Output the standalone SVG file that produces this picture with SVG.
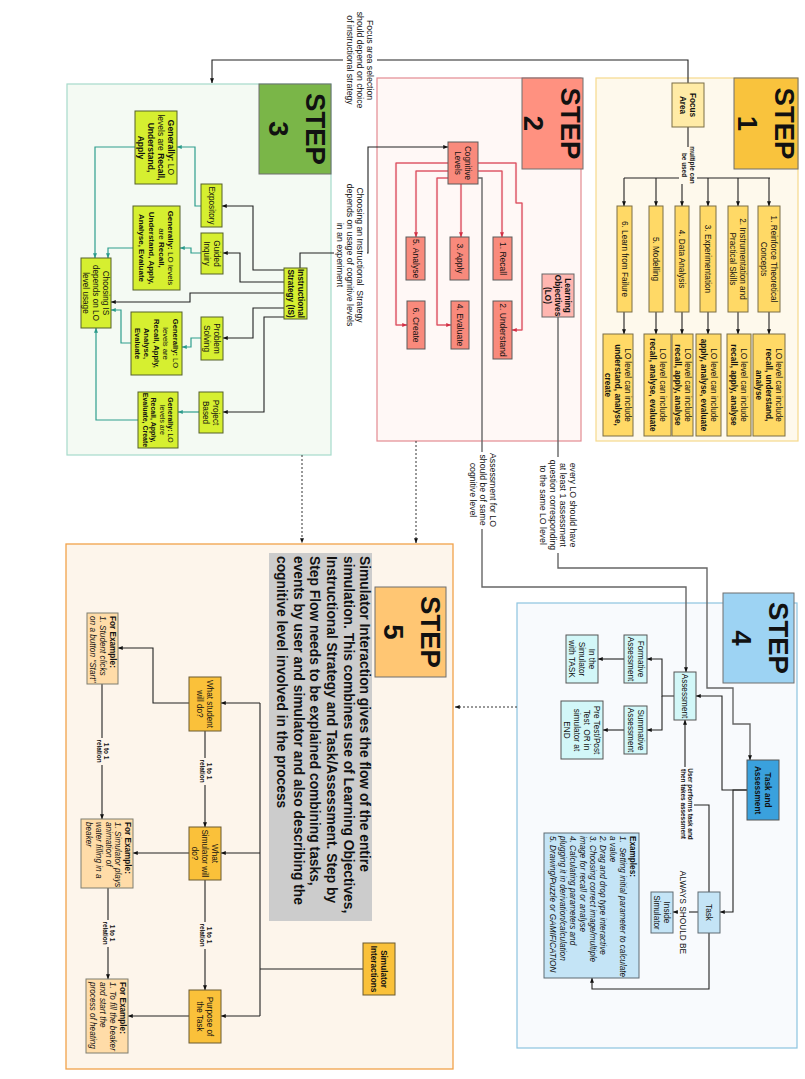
<svg xmlns="http://www.w3.org/2000/svg" width="805" height="1079" viewBox="0 0 805 1079">
<defs>
  <marker id="ah" viewBox="0 0 10 10" refX="9.5" refY="5" markerWidth="5" markerHeight="5" markerUnits="userSpaceOnUse" orient="auto">
    <path d="M0,1 L10,5 L0,9 Z" fill="#111"/>
  </marker>
  <marker id="ah-teal" viewBox="0 0 10 10" refX="9.5" refY="5" markerWidth="5" markerHeight="5" markerUnits="userSpaceOnUse" orient="auto">
    <path d="M0,1 L10,5 L0,9 Z" fill="#2A9A8A"/>
  </marker>
  <marker id="ah-red" viewBox="0 0 10 10" refX="9.5" refY="5" markerWidth="5" markerHeight="5" markerUnits="userSpaceOnUse" orient="auto">
    <path d="M0,1 L10,5 L0,9 Z" fill="#D22F44"/>
  </marker>
</defs>
<style>
  text { font-family: "Liberation Sans", Arial, sans-serif; fill: #111; }
  .n { font-size: 8.2px; text-anchor: middle; }
  .n85 { font-size: 8.5px; text-anchor: middle; }
  .b { font-weight: bold; }
  .i { font-style: italic; }
  .lbl { font-size: 8.7px; text-anchor: middle; }
  .sm { font-size: 6.4px; font-weight: bold; text-anchor: middle; }
  .step { font-size: 27.5px; font-weight: bold; text-anchor: middle; }
  .ex { font-size: 8.2px; text-anchor: start; }
  .big { font-size: 13.8px; font-weight: bold; text-anchor: start; }
  .ln { fill: none; stroke: #222; stroke-width: 1.1; }
  .gl { fill: none; stroke: #666; stroke-width: 1.4; }
  .tl { fill: none; stroke: #2E9E8E; stroke-width: 1.2; }
  .rh { fill: none; stroke: #F6BCC2; stroke-width: 2.2; }
  .rl { fill: none; stroke: #D4384A; stroke-width: 0.9; }
  .dl { fill: none; stroke: #333; stroke-width: 1; stroke-dasharray: 2 2; }
  .hd { stroke: #6F6F6F; stroke-width: 1; }
  .yb { fill: #FFD966; stroke: #7B6F47; stroke-width: 1; }
  .pk { fill: #F98A7C; stroke: #5A5A5A; stroke-width: 1; }
  .lm { fill: #D6EF30; stroke: #55602A; stroke-width: 1; }
  .cy { fill: #D2F7F8; stroke: #555; stroke-width: 1; }
  .lb { fill: #C4E4F6; stroke: #5F6B73; stroke-width: 1; }
  .or { fill: #FAC13A; stroke: #6B5A30; stroke-width: 1; }
  .pe { fill: #FFDCA8; stroke: #7F7F70; stroke-width: 1; }
</style>
<rect width="805" height="1079" fill="#ffffff"/>

<!-- ===== area frames ===== -->
<g id="step1">
  <rect x="596" y="78" width="202" height="363" fill="#FEF9EC" stroke="#F6D98D" stroke-width="1.2"/>
  <rect x="734" y="78" width="64" height="91" fill="#F9C33D" class="hd"/>
  <text class="step" transform="translate(766,123.5) rotate(90)"><tspan x="0" y="-8.7">STEP</tspan><tspan x="0" y="28.3">1</tspan></text>
</g>
<g id="step2">
  <rect x="377" y="78" width="204" height="363" fill="#FFF8F6" stroke="#E38A92" stroke-width="1.2"/>
  <rect x="522" y="78" width="61" height="91" fill="#FF9180" class="hd"/>
  <text class="step" transform="translate(552.5,123.5) rotate(90)"><tspan x="0" y="-8.7">STEP</tspan><tspan x="0" y="28.3">2</tspan></text>
</g>
<g id="step3">
  <rect x="67" y="84" width="264" height="371" fill="#F4FAF3" stroke="#A6DACB" stroke-width="1.2"/>
  <rect x="259" y="84" width="72" height="90" fill="#7AB648" class="hd"/>
  <text class="step" transform="translate(297,129) rotate(90)"><tspan x="0" y="-8.7">STEP</tspan><tspan x="0" y="28.3">3</tspan></text>
</g>
<g id="step4">
  <rect x="517" y="603" width="280" height="445" fill="#F8FAFD" stroke="#8DC4E0" stroke-width="1.2"/>
  <rect x="723" y="593" width="71" height="90" fill="#9DD3F3" class="hd"/>
  <text class="step" transform="translate(760,638) rotate(90)"><tspan x="0" y="-8.7">STEP</tspan><tspan x="0" y="28.3">4</tspan></text>
</g>
<g id="step5">
  <rect x="66" y="544" width="387" height="525" fill="#FDF5EB" stroke="#F1A24A" stroke-width="1.3"/>
  <rect x="375" y="587" width="71" height="90" fill="#FFC673" class="hd"/>
  <text class="step" transform="translate(412,632) rotate(90)"><tspan x="0" y="-8.7">STEP</tspan><tspan x="0" y="28.3">5</tspan></text>
</g>

<!-- ===== connectors ===== -->
<g id="connectors">
  <!-- step 1 -->
  <path class="ln" d="M688,83 V60 H212 V83" marker-end="url(#ah)"/>
  <path class="ln" d="M688,127 V178"/>
  <path class="ln" d="M624,178 H770"/>
  <path class="ln" d="M769,178 V206" marker-end="url(#ah)"/>
  <path class="ln" d="M738,178 V206" marker-end="url(#ah)"/>
  <path class="ln" d="M708,178 V206" marker-end="url(#ah)"/>
  <path class="ln" d="M682,178 V206" marker-end="url(#ah)"/>
  <path class="ln" d="M656,178 V206" marker-end="url(#ah)"/>
  <path class="ln" d="M624,178 V206" marker-end="url(#ah)"/>
  <path class="ln" d="M769,312 V334" marker-end="url(#ah)"/>
  <path class="ln" d="M738,312 V334" marker-end="url(#ah)"/>
  <path class="ln" d="M708,312 V334" marker-end="url(#ah)"/>
  <path class="ln" d="M682,312 V334" marker-end="url(#ah)"/>
  <path class="ln" d="M656,312 V334" marker-end="url(#ah)"/>
  <path class="ln" d="M624,312 V334" marker-end="url(#ah)"/>

  <!-- step 2: cognitive levels fan-out -->
  <g id="cognitive-halo">
    <path class="rh" d="M478,171 H502 V237"/>
    <path class="rh" d="M478,163 H516 V203 H522 V330 H512"/>
    <path class="rh" d="M461,184 V237"/>
    <path class="rh" d="M448,178 H437 V325 H451"/>
    <path class="rh" d="M448,171 H416 V237"/>
    <path class="rh" d="M448,163 H396 V325 H407"/>
  </g>
  <path class="rl" d="M478,171 H502 V237" marker-end="url(#ah-red)"/>
  <path class="rl" d="M478,163 H516 V203 H522 V330 H512" marker-end="url(#ah-red)"/>
  <path class="rl" d="M461,184 V237" marker-end="url(#ah-red)"/>
  <path class="rl" d="M448,178 H437 V325 H451" marker-end="url(#ah-red)"/>
  <path class="rl" d="M448,171 H416 V237" marker-end="url(#ah-red)"/>
  <path class="rl" d="M448,163 H396 V325 H407" marker-end="url(#ah-red)"/>

  <!-- step 2 to step 4 -->
  <path class="gl" d="M478,178 H482 V587 H686 V672" marker-end="url(#ah)"/>
  <path class="gl" d="M558,317 V568 H707 V688 H733 V724 H750 V760" marker-end="url(#ah)"/>

  <!-- step 3 -->
  <path class="ln" d="M300,268 V253 H368 V147 H448" marker-end="url(#ah)"/>
  <path class="ln" d="M284,270 H253 V206 H222" marker-end="url(#ah)"/>
  <path class="ln" d="M284,282 H240 V253 H223" marker-end="url(#ah)"/>
  <path class="ln" d="M284,293 H190 V302 H111" marker-end="url(#ah)"/>
  <path class="ln" d="M284,308 H253 V338 H223" marker-end="url(#ah)"/>
  <path class="ln" d="M284,317 H264 V412 H223" marker-end="url(#ah)"/>
  <path class="tl" d="M201,206 H195 V147 H177" marker-end="url(#ah-teal)"/>
  <path class="tl" d="M135,147 H95 V258" marker-end="url(#ah-teal)"/>
  <path class="tl" d="M201,253 H191 V248 H180" marker-end="url(#ah-teal)"/>
  <path class="tl" d="M133,248 H108 V258" marker-end="url(#ah-teal)"/>
  <path class="tl" d="M201,338 H191 V347 H182" marker-end="url(#ah-teal)"/>
  <path class="tl" d="M131,343 H121 V310 H111" marker-end="url(#ah-teal)"/>
  <path class="tl" d="M199,412 H178" marker-end="url(#ah-teal)"/>
  <path class="tl" d="M138,420 H96 V328" marker-end="url(#ah-teal)"/>

  <!-- step 4 -->
  <path class="ln" d="M674,696 H662 V659 H647" marker-end="url(#ah)"/>
  <path class="ln" d="M662,696 V730 H647" marker-end="url(#ah)"/>
  <path class="ln" d="M624,659 H598" marker-end="url(#ah)"/>
  <path class="ln" d="M624,730 H603" marker-end="url(#ah)"/>
  <path class="ln" d="M747,790 H722 V696 H696" marker-end="url(#ah)"/>
  <path class="ln" d="M747,790 H733 V912 H720" marker-end="url(#ah)"/>
  <path class="ln" d="M709,892 V805 H685 V720" marker-end="url(#ah)"/>
  <path class="ln" d="M698,912 H673" marker-end="url(#ah)"/>
  <path class="ln" d="M709,933 V989 H592 V978" marker-end="url(#ah)"/>

  <!-- dotted hand-overs into step 5 -->
  <path class="dl" d="M517,707 H455" marker-end="url(#ah)"/>
  <path class="dl" d="M302,455 V543" marker-end="url(#ah)"/>
  <path class="dl" d="M416,441 V543" marker-end="url(#ah)"/>

  <!-- step 5 -->
  <path class="ln" d="M363,969 H260"/>
  <path class="ln" d="M260,703 V1016"/>
  <path class="ln" d="M260,703 H221" marker-end="url(#ah)"/>
  <path class="ln" d="M260,853 H221" marker-end="url(#ah)"/>
  <path class="ln" d="M260,1016 H221" marker-end="url(#ah)"/>
  <path class="ln" d="M189,703 H153 V648 H118" marker-end="url(#ah)"/>
  <path class="ln" d="M205,731 V827" marker-end="url(#ah)"/>
  <path class="ln" d="M189,853 H133" marker-end="url(#ah)"/>
  <path class="ln" d="M205,880 V990" marker-end="url(#ah)"/>
  <path class="ln" d="M189,1016 H128" marker-end="url(#ah)"/>
  <path class="ln" d="M102,684 V819" marker-end="url(#ah)"/>
  <path class="ln" d="M108,888 V979" marker-end="url(#ah)"/>

  <!-- connector labels -->
  <rect x="343" y="55" width="34" height="10" fill="#ffffff"/>
  <text class="lbl" transform="translate(360,60) rotate(90)"><tspan x="0" y="-7">Focus area selection</tspan><tspan x="0" y="3">should depend on choice</tspan><tspan x="0" y="13">of instructional strategy</tspan></text>

  <rect x="679" y="147" width="18" height="37" fill="#FEF9EC"/>
  <text class="sm" transform="translate(688,165) rotate(90)"><tspan x="0" y="-1.5">multiple can</tspan><tspan x="0" y="6">be used</tspan></text>

  <rect x="334" y="248" width="33" height="10" fill="#ffffff"/>
  <text class="lbl" transform="translate(350,255) rotate(90)"><tspan x="0" y="-7">Choosing an Instructional&#160; Strategy</tspan><tspan x="0" y="3">depends on usage of cognitive levels</tspan><tspan x="0" y="13">in an experiment</tspan></text>

  <rect x="477" y="452" width="10" height="77" fill="#ffffff"/>
  <text class="lbl" transform="translate(483,490) rotate(90)"><tspan x="0" y="-7">Assessment for LO</tspan><tspan x="0" y="3">should be of same</tspan><tspan x="0" y="13">cognitive level</tspan></text>

  <rect x="553" y="457" width="10" height="96" fill="#ffffff"/>
  <text class="lbl" transform="translate(558,505) rotate(90)"><tspan x="0" y="-12">every LO should have</tspan><tspan x="0" y="-2">at least 1 assessment</tspan><tspan x="0" y="8">question corresponding</tspan><tspan x="0" y="18">to the same LO level</tspan></text>

  <rect x="679" y="767" width="15" height="74" fill="#F8FAFD"/>
  <text class="sm" transform="translate(686.5,804) rotate(90)"><tspan x="0" y="-1.4">User performs task and</tspan><tspan x="0" y="6">then takes assessment</tspan></text>

  <rect x="678" y="869" width="11" height="87" fill="#F8FAFD"/>
  <text class="lbl" transform="translate(683,912.5) rotate(90)" style="font-size:8.3px"><tspan x="0" y="2.9">ALWAYS SHOULD BE</tspan></text>

  <rect x="199" y="758" width="13" height="27" fill="#FDF5EB"/>
  <text class="sm" transform="translate(205.5,771) rotate(90)"><tspan x="0" y="-1.5">1 to 1</tspan><tspan x="0" y="6">relation</tspan></text>
  <rect x="199" y="922" width="13" height="27" fill="#FDF5EB"/>
  <text class="sm" transform="translate(205.5,935) rotate(90)"><tspan x="0" y="-1.5">1 to 1</tspan><tspan x="0" y="6">relation</tspan></text>
  <rect x="96" y="738" width="13" height="27" fill="#FDF5EB"/>
  <text class="sm" transform="translate(102.5,751) rotate(90)"><tspan x="0" y="-1.5">1 to 1</tspan><tspan x="0" y="6">relation</tspan></text>
  <rect x="102" y="920" width="13" height="27" fill="#FDF5EB"/>
  <text class="sm" transform="translate(108.5,933) rotate(90)"><tspan x="0" y="-1.5">1 to 1</tspan><tspan x="0" y="6">relation</tspan></text>
</g>

<!-- ===== step 1 nodes ===== -->
<g id="focus-area">
  <rect x="672" y="83" width="32" height="44" fill="#FFEBA6" stroke="#7B6F47"/>
  <text class="n b" transform="translate(688,105) rotate(90)"><tspan x="0" y="-2">Focus</tspan><tspan x="0" y="7.8">Area</tspan></text>
</g>
<g id="focus-1">
  <rect class="yb" x="758" y="206" width="22" height="106"/>
  <text class="n" transform="translate(769,259) rotate(90)"><tspan x="0" y="-2">1. Reinforce Theoretical</tspan><tspan x="0" y="7.8">Concepts</tspan></text>
</g>
<g id="focus-2">
  <rect class="yb" x="728" y="206" width="20" height="106"/>
  <text class="n" transform="translate(738,259) rotate(90)"><tspan x="0" y="-2">2. Instrumentation and</tspan><tspan x="0" y="7.8">Practical Skills</tspan></text>
</g>
<g id="focus-3">
  <rect class="yb" x="700" y="206" width="16" height="106"/>
  <text class="n" transform="translate(708,259) rotate(90)"><tspan x="0" y="2.9">3. Experimentation</tspan></text>
</g>
<g id="focus-4">
  <rect class="yb" x="675" y="206" width="14" height="106"/>
  <text class="n" transform="translate(682,259) rotate(90)"><tspan x="0" y="2.9">4. Data Analysis</tspan></text>
</g>
<g id="focus-5">
  <rect class="yb" x="649" y="206" width="14" height="106"/>
  <text class="n" transform="translate(656,259) rotate(90)"><tspan x="0" y="2.9">5. Modelling</tspan></text>
</g>
<g id="focus-6">
  <rect class="yb" x="617" y="206" width="15" height="106"/>
  <text class="n" transform="translate(624.5,259) rotate(90)"><tspan x="0" y="2.9">6. Learn from Failure</tspan></text>
</g>
<g id="lo-1">
  <rect class="yb" x="753" y="334" width="32" height="102"/>
  <text class="n" transform="translate(769,385) rotate(90)"><tspan x="0" y="-6.9">LO level can include</tspan><tspan x="0" y="2.9" class="b">recall, understand,</tspan><tspan x="0" y="12.7" class="b">analyse</tspan></text>
</g>
<g id="lo-2">
  <rect class="yb" x="727" y="334" width="24" height="102"/>
  <text class="n" transform="translate(739,385) rotate(90)"><tspan x="0" y="-2">LO level can include</tspan><tspan x="0" y="7.8" class="b">recall, apply, analyse</tspan></text>
</g>
<g id="lo-3">
  <rect class="yb" x="696" y="334" width="25" height="102"/>
  <text class="n" transform="translate(708.5,385) rotate(90)"><tspan x="0" y="-2">LO level can include</tspan><tspan x="0" y="7.8" class="b">apply, analyse, evaluate</tspan></text>
</g>
<g id="lo-4">
  <rect class="yb" x="672" y="334" width="21" height="102"/>
  <text class="n" transform="translate(682.5,385) rotate(90)"><tspan x="0" y="-2">LO level can include</tspan><tspan x="0" y="7.8" class="b">recall, apply, analyse</tspan></text>
</g>
<g id="lo-5">
  <rect class="yb" x="644" y="334" width="27" height="102"/>
  <text class="n" transform="translate(657.5,385) rotate(90)"><tspan x="0" y="-2">LO level can include</tspan><tspan x="0" y="7.8" class="b">recall, analyse, evaluate</tspan></text>
</g>
<g id="lo-6">
  <rect class="yb" x="603" y="334" width="30" height="102"/>
  <text class="n" transform="translate(618,385) rotate(90)"><tspan x="0" y="-6.9">LO level can include</tspan><tspan x="0" y="2.9" class="b">understand, analyse,</tspan><tspan x="0" y="12.7" class="b">create</tspan></text>
</g>

<!-- ===== step 2 nodes ===== -->
<g id="cognitive-levels">
  <rect class="pk" x="448" y="142" width="30" height="42"/>
  <text class="n" transform="translate(463,163) rotate(90)"><tspan x="0" y="-2">Cognitive</tspan><tspan x="0" y="7.8">Levels</tspan></text>
</g>
<g id="recall">
  <rect class="pk" x="493" y="237" width="19" height="43"/>
  <text class="n85" transform="translate(502.5,258.5) rotate(90)"><tspan x="0" y="3">1. Recall</tspan></text>
</g>
<g id="understand">
  <rect class="pk" x="493" y="301" width="19" height="58"/>
  <text class="n85" transform="translate(502.5,330) rotate(90)"><tspan x="0" y="3">2. Understand</tspan></text>
</g>
<g id="apply">
  <rect class="pk" x="450" y="237" width="19" height="43"/>
  <text class="n85" transform="translate(459.5,258.5) rotate(90)"><tspan x="0" y="3">3. Apply</tspan></text>
</g>
<g id="evaluate">
  <rect class="pk" x="451" y="301" width="18" height="48"/>
  <text class="n85" transform="translate(460,325) rotate(90)"><tspan x="0" y="3">4. Evaluate</tspan></text>
</g>
<g id="analyse">
  <rect class="pk" x="406" y="237" width="19" height="43"/>
  <text class="n85" transform="translate(415.5,258.5) rotate(90)"><tspan x="0" y="3">5. Analyse</tspan></text>
</g>
<g id="create">
  <rect class="pk" x="407" y="301" width="18" height="48"/>
  <text class="n85" transform="translate(416,325) rotate(90)"><tspan x="0" y="3">6. Create</tspan></text>
</g>
<g id="learning-objectives">
  <rect x="542" y="274" width="32" height="43" fill="#FFB6B0" stroke="#666"/>
  <text class="n b" transform="translate(558,295.5) rotate(90)"><tspan x="0" y="-6.9">Learning</tspan><tspan x="0" y="2.9">Objectives</tspan><tspan x="0" y="12.7">(LO)</tspan></text>
</g>

<!-- ===== step 3 nodes ===== -->
<g id="generally-1">
  <rect class="lm" x="135" y="111" width="42" height="73"/>
  <text class="n" style="font-size:8.5px" transform="translate(156,147.5) rotate(90)"><tspan x="0" y="-12"><tspan class="b">Generally:</tspan> LO</tspan><tspan x="0" y="-2">levels are <tspan class="b">Recall,</tspan></tspan><tspan x="0" y="8" class="b">Understand,</tspan><tspan x="0" y="18" class="b">Apply</tspan></text>
</g>
<g id="generally-2">
  <rect class="lm" x="133" y="206" width="47" height="84"/>
  <text class="n" style="font-size:8px" transform="translate(156.5,248) rotate(90)"><tspan x="0" y="-11.6"><tspan class="b">Generally:</tspan> LO levels</tspan><tspan x="0" y="-2">are <tspan class="b">Recall,</tspan></tspan><tspan x="0" y="7.6" class="b">Understand, Apply,</tspan><tspan x="0" y="17.2" class="b">Analyse, Evaluate</tspan></text>
</g>
<g id="generally-3">
  <rect class="lm" x="131" y="312" width="51" height="63"/>
  <text class="n" style="font-size:7.6px" transform="translate(156.5,343.5) rotate(90)"><tspan x="0" y="-16.1"><tspan class="b">Generally:</tspan> LO</tspan><tspan x="0" y="-6.7">levels are</tspan><tspan x="0" y="2.7" class="b">Recall, Apply,</tspan><tspan x="0" y="12.1" class="b">Analyse,</tspan><tspan x="0" y="21.5" class="b">Evaluate</tspan></text>
</g>
<g id="generally-4">
  <rect class="lm" x="138" y="392" width="40" height="56"/>
  <text class="n" style="font-size:7px" transform="translate(158,420) rotate(90)"><tspan x="0" y="-10"><tspan class="b">Generally:</tspan> LO</tspan><tspan x="0" y="-1.7">levels are</tspan><tspan x="0" y="6.7" class="b">Recall, Apply,</tspan><tspan x="0" y="15" class="b">Evaluate, Create</tspan></text>
</g>
<g id="expository">
  <rect class="lm" x="201" y="184" width="21" height="43"/>
  <text class="n" transform="translate(211.5,205.5) rotate(90)"><tspan x="0" y="2.9">Expository</tspan></text>
</g>
<g id="guided-inquiry">
  <rect class="lm" x="201" y="233" width="22" height="41"/>
  <text class="n" transform="translate(212,253.5) rotate(90)"><tspan x="0" y="-2">Guided</tspan><tspan x="0" y="7.8">Inquiry</tspan></text>
</g>
<g id="problem-solving">
  <rect class="lm" x="201" y="317" width="22" height="43"/>
  <text class="n" transform="translate(212,338.5) rotate(90)"><tspan x="0" y="-2">Problem</tspan><tspan x="0" y="7.8">Solving</tspan></text>
</g>
<g id="project-based">
  <rect class="lm" x="199" y="392" width="24" height="41"/>
  <text class="n" transform="translate(211,412.5) rotate(90)"><tspan x="0" y="-2">Project</tspan><tspan x="0" y="7.8">Based</tspan></text>
</g>
<g id="instructional-strategy">
  <rect class="lm" x="284" y="268" width="23" height="51"/>
  <text class="n b" transform="translate(295.5,293.5) rotate(90)"><tspan x="0" y="-2">Instructional</tspan><tspan x="0" y="7.8">Strategy (IS)</tspan></text>
</g>
<g id="choosing-is">
  <rect class="lm" x="81" y="258" width="30" height="70"/>
  <text class="n" transform="translate(96,293) rotate(90)"><tspan x="0" y="-6.9">Choosing IS</tspan><tspan x="0" y="2.9">depends on LO</tspan><tspan x="0" y="12.7">level usage</tspan></text>
</g>

<!-- ===== step 4 nodes ===== -->
<g id="assessment">
  <rect class="cy" x="674" y="672" width="22" height="48"/>
  <text class="n" transform="translate(685,696) rotate(90)"><tspan x="0" y="2.9">Assessment</tspan></text>
</g>
<g id="formative">
  <rect class="cy" x="624" y="635" width="23" height="48"/>
  <text class="n" transform="translate(635.5,659) rotate(90)"><tspan x="0" y="-2">Formative</tspan><tspan x="0" y="7.8">Assessment</tspan></text>
</g>
<g id="summative">
  <rect class="cy" x="624" y="706" width="23" height="48"/>
  <text class="n" transform="translate(635.5,730) rotate(90)"><tspan x="0" y="-2">Summative</tspan><tspan x="0" y="7.8">Assessment</tspan></text>
</g>
<g id="in-simulator">
  <rect class="cy" x="566" y="635" width="32" height="48"/>
  <text class="n" transform="translate(582,659) rotate(90)"><tspan x="0" y="-6.9">In the</tspan><tspan x="0" y="2.9">Simulator</tspan><tspan x="0" y="12.7">with TASK</tspan></text>
</g>
<g id="pre-post-test">
  <rect class="cy" x="561" y="701" width="42" height="58"/>
  <text class="n" transform="translate(582,730) rotate(90)"><tspan x="0" y="-11.8">Pre Test/Post</tspan><tspan x="0" y="-2">Test&#160; OR in</tspan><tspan x="0" y="7.8">simulator at</tspan><tspan x="0" y="17.6">END</tspan></text>
</g>
<g id="task-and-assessment">
  <rect x="747" y="760" width="32" height="60" fill="#3AA1DD" stroke="#555"/>
  <text class="n b" transform="translate(763,790) rotate(90)"><tspan x="0" y="-2">Task and</tspan><tspan x="0" y="7.8">Assessment</tspan></text>
</g>
<g id="task">
  <rect class="lb" x="698" y="892" width="22" height="41"/>
  <text class="n" transform="translate(709,912.5) rotate(90)"><tspan x="0" y="2.9">Task</tspan></text>
</g>
<g id="inside-simulator">
  <rect class="lb" x="651" y="892" width="22" height="41"/>
  <text class="n" transform="translate(662,912.5) rotate(90)"><tspan x="0" y="-2">Inside</tspan><tspan x="0" y="7.8">Simulator</tspan></text>
</g>
<g id="task-examples">
  <rect class="lb" x="544" y="833" width="95" height="145"/>
  <text class="ex" transform="translate(637,836) rotate(90)">
    <tspan x="0" y="7.2" class="b">Examples:</tspan>
    <tspan x="0" y="17.2" class="i">1.&#160; Setting initial parameter to calculate</tspan>
    <tspan x="0" y="27.2" class="i">a value</tspan>
    <tspan x="0" y="37.2" class="i">2. Drag and drop type interactive</tspan>
    <tspan x="0" y="47.2" class="i">3. Choosing correct image/multiple</tspan>
    <tspan x="0" y="57.2" class="i">image for recall or analyse</tspan>
    <tspan x="0" y="67.2" class="i">4. Calculating parameters and</tspan>
    <tspan x="0" y="77.2" class="i">plugging it in derivation/calculation</tspan>
    <tspan x="0" y="87.2" class="i">5. Drawing/Puzzle or GAMIFICATION</tspan>
  </text>
</g>

<!-- ===== step 5 nodes ===== -->
<g id="step5-description">
  <rect x="269" y="553" width="103" height="368" fill="#CCCCCC"/>
  <text class="big" transform="translate(365,556) rotate(90)">
    <tspan x="0" y="4.9">Simulator Interaction gives the flow of the entire</tspan>
    <tspan x="0" y="21.5">simulation. This combines use of Learning Objectives,</tspan>
    <tspan x="0" y="38.1">Instructional Strategy and Task/Assessment. Step by</tspan>
    <tspan x="0" y="54.7">Step Flow needs to be explained combining tasks,</tspan>
    <tspan x="0" y="71.3">events by user and simulator and also describing the</tspan>
    <tspan x="0" y="87.9">cognitive level involved in the process</tspan>
  </text>
</g>
<g id="simulator-interactions">
  <rect class="or" x="363" y="943" width="32" height="52"/>
  <text class="n b" transform="translate(379,969) rotate(90)"><tspan x="0" y="-2">Simulator</tspan><tspan x="0" y="7.8">Interactions</tspan></text>
</g>
<g id="what-student">
  <rect class="or" x="189" y="677" width="32" height="54"/>
  <text class="n" transform="translate(205,704) rotate(90)"><tspan x="0" y="-2">What student</tspan><tspan x="0" y="7.8">will do?</tspan></text>
</g>
<g id="what-simulator">
  <rect class="or" x="189" y="827" width="32" height="53"/>
  <text class="n" transform="translate(205,853.5) rotate(90)"><tspan x="0" y="-6.9">What</tspan><tspan x="0" y="2.9">Simulator will</tspan><tspan x="0" y="12.7">do?</tspan></text>
</g>
<g id="purpose">
  <rect class="or" x="189" y="990" width="32" height="53"/>
  <text class="n" transform="translate(205,1016.5) rotate(90)"><tspan x="0" y="-2">Purpose of</tspan><tspan x="0" y="7.8">the Task</tspan></text>
</g>
<g id="example-student">
  <rect class="pe" x="87" y="613" width="31" height="71"/>
  <text class="ex" transform="translate(118,616) rotate(90)"><tspan x="0" y="7.9" class="b">For Example:</tspan><tspan x="0" y="17.9" class="i">1. Student clicks</tspan><tspan x="0" y="27.9" class="i">on a button "Start"</tspan></text>
</g>
<g id="example-simulator">
  <rect class="pe" x="81" y="819" width="52" height="69"/>
  <text class="ex" transform="translate(133,822) rotate(90)"><tspan x="0" y="7.9" class="b">For Example:</tspan><tspan x="0" y="17.7" class="i">1. Simulator plays</tspan><tspan x="0" y="27.5" class="i">animation of</tspan><tspan x="0" y="37.3" class="i">water filling in a</tspan><tspan x="0" y="47.1" class="i">beaker</tspan></text>
</g>
<g id="example-purpose">
  <rect class="pe" x="86" y="979" width="42" height="74"/>
  <text class="ex" transform="translate(128,982) rotate(90)"><tspan x="0" y="7.9" class="b">For Example:</tspan><tspan x="0" y="17.9" class="i">1. To fill the beaker</tspan><tspan x="0" y="27.9" class="i">and start the</tspan><tspan x="0" y="37.9" class="i">process of heating</tspan></text>
</g>
</svg>
